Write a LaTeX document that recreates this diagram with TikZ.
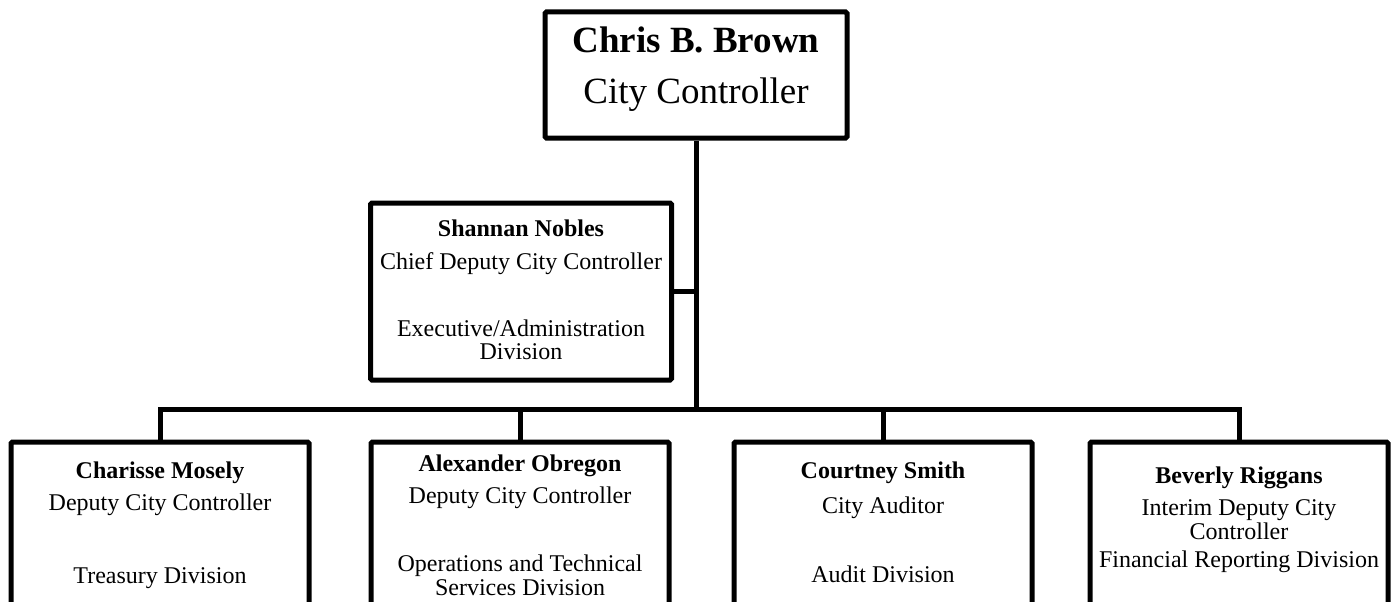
\documentclass[tikz,border=0pt]{standalone}
\usepackage{fontspec}
\setmainfont{Liberation Serif}
\usetikzlibrary{positioning}

\tikzset{
  post/.style={draw, line width=5pt, rounded corners=1.5pt, minimum width=298pt, inner sep=0pt},
  wire/.style={line width=5pt},
  txt/.style={anchor=base, inner sep=0pt, font=\fontsize{24}{28}\selectfont},
  who/.style={anchor=base, inner sep=0pt, font=\fontsize{24}{28}\selectfont\bfseries},
}

\begin{document}
\begin{tikzpicture}[x=1pt,y=-1pt]
  \useasboundingbox (0,0) rectangle (1398,602);
  \clip (0,0) rectangle (1398,602);
  % boxes
  \node[post, minimum width=302pt, minimum height=126pt] (ctl) at (696,75) {};
  \node[post, minimum width=301pt, minimum height=177pt] (chief) at (521,291.5) {};
  \node[post, minimum height=300pt] (treas) at (160,592) {};
  \node[post, minimum height=300pt] (ops)   at (520,592) {};
  \node[post, minimum height=300pt] (aud)   at (883,592) {};
  \node[post, minimum height=300pt] (rep)   at (1239,592) {};
  % connectors
  \coordinate (bar) at (696,409);
  \draw[wire] (ctl.south) -- (bar);
  \draw[wire] (chief.east) -- (chief.east -| bar);
  \draw[wire] (treas.north) -- (treas.north |- bar) -- (rep.north |- bar) -- (rep.north);
  \draw[wire] (ops.north) -- (ops.north |- bar);
  \draw[wire] (aud.north) -- (aud.north |- bar);
  % texts
  \node[who, font=\fontsize{37}{40}\selectfont\bfseries] (ctlname) at (696,53) {Chris B. Brown};
  \node[txt, font=\fontsize{37}{40}\selectfont] (ctlrole) at (696,103) {City Controller};
  \node[who] (chiefname) at (521,236) {Shannan Nobles};
  \node[txt] (chiefrole) at (521,269) {Chief Deputy City Controller};
  \node[txt] (chiefdiv1) at (521,336) {Executive/Administration};
  \node[txt] (chiefdiv2) at (521,359) {Division};
  \node[who] (treasname) at (160,478) {Charisse Mosely};
  \node[txt] (treasrole) at (160,510) {Deputy City Controller};
  \node[txt] (treasdiv) at (160,583) {Treasury Division};
  \node[who] (opsname) at (520,471) {Alexander Obregon};
  \node[txt] (opsrole) at (520,503) {Deputy City Controller};
  \node[txt] (opsdiv1) at (520,571) {Operations and Technical};
  \node[txt] (opsdiv2) at (520,595) {Services Division};
  \node[who] (audname) at (883,478) {Courtney Smith};
  \node[txt] (audrole) at (883,513) {City Auditor};
  \node[txt] (auddiv) at (883,582) {Audit Division};
  \node[who] (repname) at (1239,483) {Beverly Riggans};
  \node[txt] (reprole1) at (1239,515) {Interim Deputy City};
  \node[txt] (reprole2) at (1239,539) {Controller};
  \node[txt] (repdiv) at (1239,567) {Financial Reporting Division};
\end{tikzpicture}
\end{document}
